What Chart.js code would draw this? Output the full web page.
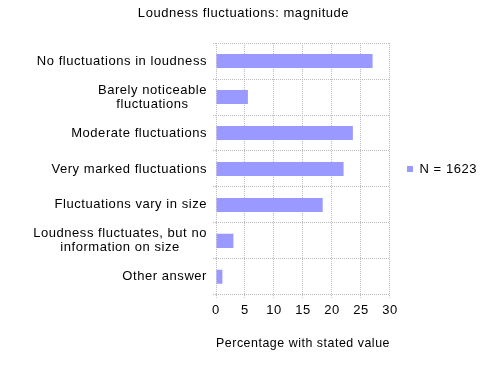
<!DOCTYPE html>
<html><head><meta charset="utf-8">
<script src="https://cdn.jsdelivr.net/npm/chart.js@4"></script>
<style>html,body{margin:0;padding:0;background:#fff}</style>
</head><body>
<canvas id="c" width="487" height="367"></canvas>
<script>
const categories = [
  "No fluctuations in loudness",
  ["Barely noticeable", "fluctuations"],
  "Moderate fluctuations",
  "Very marked fluctuations",
  "Fluctuations vary in size",
  ["Loudness fluctuates, but no", "information on size"],
  "Other answer"
];
const values = [27.0, 5.5, 23.6, 22.0, 18.4, 3.0, 1.1];
const seriesName = "N = 1623";
const chartTitle = "Loudness fluctuations: magnitude";
const xAxisTitle = "Percentage with stated value";
const xTicks = [0, 5, 10, 15, 20, 25, 30];

const FAMILY = "'Liberation Sans', Arial, Helvetica, sans-serif";
const FS = 13;
const SPACING = '0.55px';
const GRID = '#bcbcbc';

const spacingPlugin = {
  id: 'spacing',
  afterInit(chart) { chart.ctx.letterSpacing = SPACING; },
  beforeUpdate(chart) { chart.ctx.letterSpacing = SPACING; },
  beforeDraw(chart) { chart.ctx.letterSpacing = SPACING; }
};

const centeredLabels = {
  id: 'centeredLabels',
  afterDraw(chart) {
    const s = chart.scales.y;
    const ctx = chart.ctx;
    ctx.save();
    ctx.letterSpacing = SPACING;
    ctx.font = FS + 'px ' + FAMILY;
    ctx.fillStyle = '#000';
    ctx.textAlign = 'center';
    ctx.textBaseline = 'middle';
    const right = s.right - 9;
    const lh = 14;
    s.ticks.forEach((t, i) => {
      const lab = categories[i];
      const lines = Array.isArray(lab) ? lab : [lab];
      const w = Math.max(...lines.map(l => ctx.measureText(l).width));
      const cx = right - w / 2;
      const y0 = s.getPixelForTick(i) - (lines.length - 1) * lh / 2;
      lines.forEach((l, j) => ctx.fillText(l, cx, y0 + j * lh));
    });
    ctx.restore();
  }
};

new Chart(document.getElementById('c'), {
  type: 'bar',
  data: {
    labels: categories,
    datasets: [{
      label: seriesName,
      data: values,
      backgroundColor: '#9999ff',
      borderWidth: 0,
      barPercentage: 0.39,
      categoryPercentage: 1.0
    }]
  },
  options: {
    indexAxis: 'y',
    responsive: false,
    devicePixelRatio: 1,
    animation: false,
    layout: { padding: { left: 0, right: 0, top: 0, bottom: 12 } },
    font: { family: FAMILY, size: FS },
    plugins: {
      title: {
        display: true, text: chartTitle, color: '#000',
        font: { family: FAMILY, size: FS, weight: 'normal' },
        padding: { top: 6, bottom: 21.5 }
      },
      legend: {
        position: 'right', fullSize: false,
        labels: {
          boxWidth: 6, boxHeight: 6, padding: 17, color: '#000',
          font: { family: FAMILY, size: FS }
        }
      },
      tooltip: { enabled: false }
    },
    scales: {
      x: {
        min: 0, max: 30,
        afterBuildTicks(scale) { scale.ticks = xTicks.map(v => ({ value: v })); },
        ticks: { color: '#000', padding: 5, font: { family: FAMILY, size: FS } },
        grid: { color: GRID, tickLength: 3, tickColor: GRID, tickBorderDash: [1, 1] },
        border: { display: false, dash: [1, 1] },
        title: {
          display: true, text: xAxisTitle, color: '#000',
          font: { family: FAMILY, size: FS },
          padding: { top: 12, bottom: 4 }
        }
      },
      y: {
        afterFit(scale) { scale.width = 216; },
        ticks: { color: 'rgba(0,0,0,0)', padding: 7, font: { family: FAMILY, size: FS } },
        grid: { color: GRID, tickLength: 3, tickColor: GRID, tickBorderDash: [1, 1], offset: true },
        border: { display: false, dash: [1, 1] }
      }
    }
  },
  plugins: [spacingPlugin, centeredLabels]
});
</script>
</body></html>
